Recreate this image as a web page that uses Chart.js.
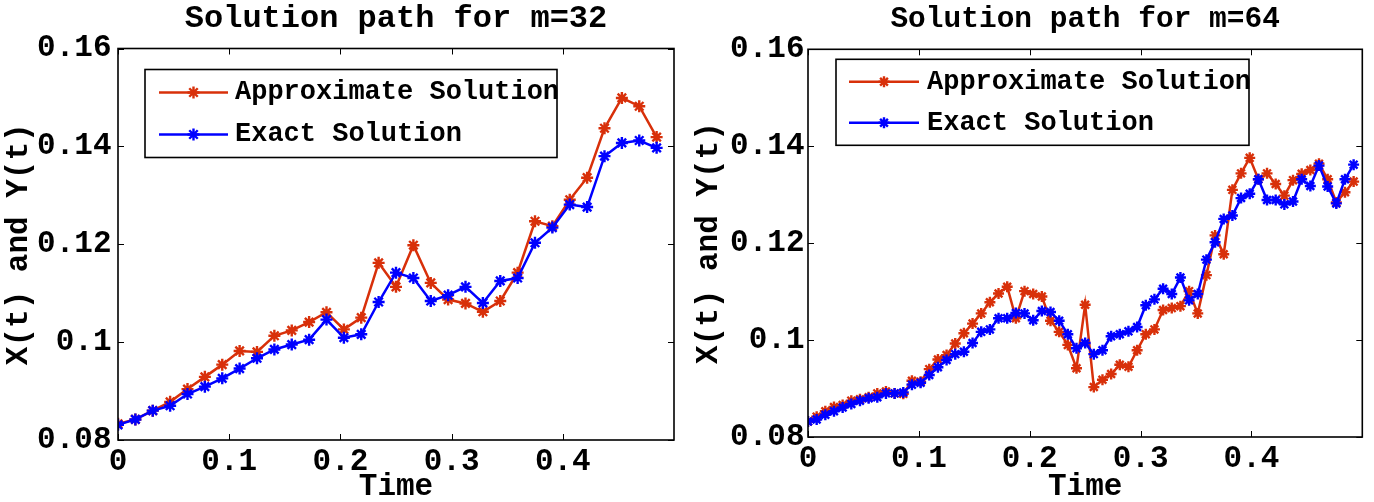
<!DOCTYPE html>
<html>
<head>
<meta charset="utf-8">
<script src="https://cdn.jsdelivr.net/npm/chart.js@4.4.1/dist/chart.umd.min.js"></script>
<style>
  html, body { margin: 0; padding: 0; background: #fff; }
  .panel { position: absolute; top: 0; width: 687px; height: 502px; }
  #left { left: 0; }
  #right { left: 687px; }
</style>
</head>
<body>
<div class="panel" id="left"><canvas id="chart32"></canvas></div>
<div class="panel" id="right"><canvas id="chart64"></canvas></div>
<script>
// values (m=32 and m=64)
const approx32 = [0.0833, 0.0842, 0.0860, 0.0878, 0.0904, 0.0929, 0.0954, 0.0982, 0.0980, 0.1013,
  0.1024, 0.1041, 0.1061, 0.1026, 0.1050, 0.1162, 0.1113, 0.1198, 0.1121, 0.1087,
  0.1079, 0.1062, 0.1084, 0.1142, 0.1247, 0.1237, 0.1291, 0.1336, 0.1437, 0.1499,
  0.1482, 0.1419];
const exact32 = [0.0831, 0.0842, 0.0860, 0.0870, 0.0894, 0.0909, 0.0926, 0.0946, 0.0967, 0.0985,
  0.0995, 0.1005, 0.1046, 0.1009, 0.1016, 0.1082, 0.1142, 0.1131, 0.1084, 0.1096,
  0.1113, 0.1080, 0.1125, 0.1131, 0.1203, 0.1234, 0.1281, 0.1276, 0.1380, 0.1407,
  0.1412, 0.1397];
const approx64 = [0.0832, 0.0842, 0.0853, 0.0862, 0.0866, 0.0875, 0.0878, 0.0882, 0.0890, 0.0894,
  0.0890, 0.0889, 0.0916, 0.0914, 0.0940, 0.0960, 0.0969, 0.0993, 0.1014, 0.1034,
  0.1055, 0.1078, 0.1096, 0.1110, 0.1045, 0.1101, 0.1095, 0.1090, 0.1040, 0.1017,
  0.0990, 0.0942, 0.1073, 0.0903, 0.0918, 0.0930, 0.0949, 0.0945, 0.0979, 0.1012,
  0.1022, 0.1062, 0.1066, 0.1070, 0.1101, 0.1055, 0.1134, 0.1216, 0.1177, 0.1310,
  0.1344, 0.1376, 0.1332, 0.1344, 0.1322, 0.1298, 0.1330, 0.1343, 0.1351, 0.1364,
  0.1332, 0.1284, 0.1305, 0.1327];
const exact64 = [0.0832, 0.0836, 0.0846, 0.0853, 0.0861, 0.0868, 0.0875, 0.0880, 0.0882, 0.0890,
  0.0890, 0.0892, 0.0908, 0.0912, 0.0928, 0.0944, 0.0959, 0.0971, 0.0976, 0.0994,
  0.1017, 0.1022, 0.1045, 0.1045, 0.1056, 0.1055, 0.1041, 0.1060, 0.1058, 0.1040,
  0.1012, 0.0983, 0.0994, 0.0971, 0.0979, 0.1008, 0.1012, 0.1018, 0.1027, 0.1072,
  0.1084, 0.1106, 0.1095, 0.1129, 0.1082, 0.1095, 0.1166, 0.1202, 0.1250, 0.1257,
  0.1293, 0.1302, 0.1332, 0.1289, 0.1289, 0.1280, 0.1286, 0.1332, 0.1318, 0.1360,
  0.1317, 0.1282, 0.1332, 0.1362];
const dt32 = 1 / 64;
const dt64 = 1 / 128;
const xTicks = [0, 0.1, 0.2, 0.3, 0.4];
const yTicks = [0.08, 0.1, 0.12, 0.14, 0.16];
const seriesNames = ['Approximate Solution', 'Exact Solution'];

const RED = '#d8300a';
const BLUE = '#0000ff';
const FONT = "'Liberation Mono', 'Courier New', monospace";

// matlab style box with inward ticks on all four sides
const matlabAxes = {
  id: 'matlabAxes',
  afterDraw(chart) {
    const {ctx, chartArea: a, scales: {x, y}} = chart;
    const len = 6;
    ctx.save();
    ctx.strokeStyle = '#000';
    ctx.lineWidth = 1;
    ctx.beginPath();
    xTicks.forEach((v) => {
      const px = Math.round(x.getPixelForValue(v)) + 0.5;
      ctx.moveTo(px, a.bottom); ctx.lineTo(px, a.bottom - len);
      ctx.moveTo(px, a.top); ctx.lineTo(px, a.top + len);
    });
    yTicks.forEach((v) => {
      const py = Math.round(y.getPixelForValue(v)) + 0.5;
      ctx.moveTo(a.left, py); ctx.lineTo(a.left + len, py);
      ctx.moveTo(a.right, py); ctx.lineTo(a.right - len, py);
    });
    ctx.stroke();
    ctx.lineWidth = 1.6;
    ctx.strokeRect(a.left, a.top, a.right - a.left, a.bottom - a.top);
    ctx.restore();
  }
};

const drawStar = (ctx, cx, cy, r) => {
  const d = r * Math.SQRT1_2;
  ctx.beginPath();
  ctx.moveTo(cx - r, cy); ctx.lineTo(cx + r, cy);
  ctx.moveTo(cx, cy - r); ctx.lineTo(cx, cy + r);
  ctx.moveTo(cx - d, cy - d); ctx.lineTo(cx + d, cy + d);
  ctx.moveTo(cx - d, cy + d); ctx.lineTo(cx + d, cy - d);
  ctx.stroke();
};

// boxed legend inside the axes, like matlab's
const boxLegend = {
  id: 'boxLegend',
  afterDatasetsDraw(chart, args, opts) {
    const {ctx, chartArea: a} = chart;
    const bx = a.left + opts.x, by = a.top + opts.y;
    ctx.save();
    ctx.fillStyle = '#fff';
    ctx.fillRect(bx, by, opts.w, opts.h);
    ctx.strokeStyle = '#000';
    ctx.lineWidth = 1.6;
    ctx.strokeRect(bx, by, opts.w, opts.h);
    seriesNames.forEach((name, i) => {
      const ds = chart.data.datasets.find((d) => d.label === name);
      const ry = a.top + opts.rows[i];
      ctx.strokeStyle = ds.borderColor;
      ctx.lineWidth = ds.borderWidth;
      ctx.beginPath();
      ctx.moveTo(a.left + opts.line[0], ry);
      ctx.lineTo(a.left + opts.line[1], ry);
      ctx.stroke();
      ctx.lineWidth = ds.pointBorderWidth;
      drawStar(ctx, a.left + (opts.line[0] + opts.line[1]) / 2, ry, ds.pointRadius);
      ctx.fillStyle = '#000';
      ctx.font = `bold ${opts.fontSize}px ${FONT}`;
      ctx.textBaseline = 'middle';
      ctx.textAlign = 'left';
      ctx.fillText(name, a.left + opts.textX, ry);
    });
    ctx.restore();
  }
};

function makeChart(id, dt, approx, exact, look) {
  const times = approx.map((_, i) => i * dt);
  const series = (vals) => vals.map((v, i) => ({x: times[i], y: v}));
  const lineStyle = (color) => ({
    borderColor: color,
    backgroundColor: color,
    borderWidth: 2.5,
    pointStyle: 'star',
    pointRadius: look.r,
    pointBorderWidth: 2.4,
    pointBorderColor: color,
    pointBackgroundColor: color,
    tension: 0
  });
  const tickFont = {family: FONT, size: 31, weight: 'bold', lineHeight: 1};
  return new Chart(document.getElementById(id), {
    type: 'line',
    data: {
      datasets: [
        {label: seriesNames[0], data: series(approx), order: 2, ...lineStyle(RED)},
        {label: seriesNames[1], data: series(exact), order: 1, ...lineStyle(BLUE)}
      ]
    },
    options: {
      responsive: true,
      maintainAspectRatio: false,
      animation: false,
      layout: {padding: {left: 0, top: 0, bottom: 0, right: look.padRight}},
      plugins: {
        legend: {display: false},
        tooltip: {enabled: false},
        title: {
          display: true,
          fullSize: false,
          text: look.title,
          color: '#000',
          font: {family: FONT, size: look.titleSize, weight: 'bold', lineHeight: 1},
          padding: {top: look.titleTop, bottom: look.titleBottom}
        },
        boxLegend: look.legend
      },
      scales: {
        x: {
          type: 'linear',
          min: 0,
          max: 0.5,
          afterBuildTicks: (s) => { s.ticks = xTicks.map((v) => ({value: v})); },
          afterFit: (s) => { s.height = look.xHeight; },
          grid: {display: false, drawTicks: false},
          border: {display: false},
          ticks: {
            color: '#000', font: tickFont, padding: look.xPad,
            maxRotation: 0, autoSkip: false,
            callback: (v) => String(Math.round(v * 100) / 100)
          },
          title: {
            display: true, text: 'Time', color: '#000',
            font: {family: FONT, size: 31, weight: 'bold', lineHeight: 1},
            padding: {top: 0, bottom: look.timeBottom}
          }
        },
        y: {
          min: 0.08,
          max: 0.16,
          afterBuildTicks: (s) => { s.ticks = yTicks.map((v) => ({value: v})); },
          afterFit: (s) => { s.width = look.yWidth; },
          grid: {display: false, drawTicks: false},
          border: {display: false},
          ticks: {
            color: '#000', font: tickFont, padding: look.yPad,
            callback: (v) => String(Math.round(v * 100) / 100)
          },
          title: {
            display: true, text: 'X(t) and Y(t)', color: '#000',
            font: {family: FONT, size: 31, weight: 'bold', lineHeight: 1},
            padding: {top: look.yTitleLeft, bottom: 0}
          }
        }
      }
    },
    plugins: [boxLegend, matlabAxes]
  });
}

makeChart('chart32', dt32, approx32, exact32, {
  title: 'Solution path for m=32', titleSize: 32, titleTop: 2.5, titleBottom: 14,
  padRight: 13, yWidth: 118, xHeight: 62, xPad: 7, yPad: 6.5, timeBottom: -1, yTitleLeft: 4,
  r: 6,
  legend: {x: 27, y: 21, w: 412, h: 88, line: [41, 110], textX: 117, rows: [44, 86], fontSize: 27}
});

makeChart('chart64', dt64, approx64, exact64, {
  title: 'Solution path for m=64', titleSize: 29.5, titleTop: 5, titleBottom: 14.8,
  padRight: 11.7, yWidth: 121, xHeight: 65, xPad: 7, yPad: 3.5, timeBottom: -1, yTitleLeft: 6.5,
  r: 5.5,
  legend: {x: 28, y: 10, w: 413, h: 86, line: [41, 111], textX: 119, rows: [32.5, 73.5], fontSize: 27}
});
</script>
</body>
</html>
